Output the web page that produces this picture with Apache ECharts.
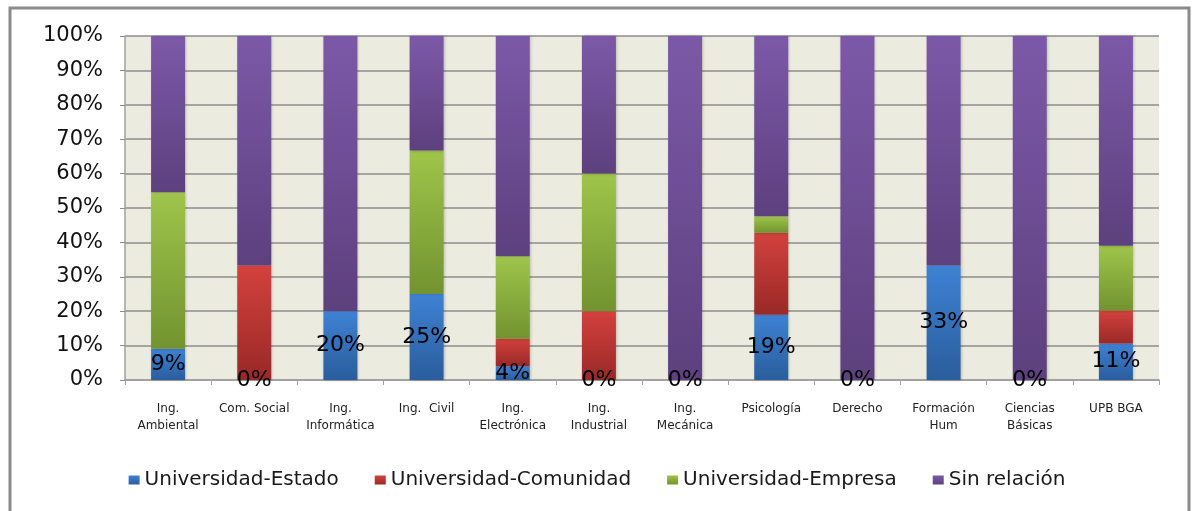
<!DOCTYPE html>
<html>
<head>
<meta charset="utf-8">
<script src="https://cdn.jsdelivr.net/npm/echarts@6/dist/echarts.min.js"></script>
<style>
  html, body { margin: 0; padding: 0; background: #fff; }
  #grafico { width: 1194px; height: 511px; }
</style>
</head>
<body>
<div id="grafico"></div>
<script>
// carreras (eje x)
const categorias = ['Ing.\nAmbiental', 'Com. Social', 'Ing.\nInformática', 'Ing.  Civil', 'Ing.\nElectrónica', 'Ing.\nIndustrial', 'Ing.\nMecánica', 'Psicología', 'Derecho', 'Formación\nHum', 'Ciencias\nBásicas', 'UPB BGA'];
// porcentajes por tipo de relación
const estado    = [9.1, 0, 20, 25, 4, 0, 0, 19.0, 0, 33.3, 0, 10.6];
const comunidad = [0, 33.3, 0, 0, 8, 20, 0, 23.8, 0, 0, 0, 9.6];
const empresa   = [45.5, 0, 0, 41.7, 24, 40, 0, 4.8, 0, 0, 0, 18.8];
const sinRel    = [45.4, 66.7, 80, 33.3, 64, 40, 100, 52.4, 100, 66.7, 100, 61.0];
const ticksY = [0, 10, 20, 30, 40, 50, 60, 70, 80, 90, 100];

function grad(claro, oscuro) {
    return new echarts.graphic.LinearGradient(0, 0, 0, 1, [
        { offset: 0, color: claro },
        { offset: 1, color: oscuro }
    ]);
}

function serie(nombre, datos, claro, oscuro, conEtiqueta) {
    return {
        name: nombre,
        type: 'bar',
        stack: 'total',
        barWidth: 34,
        data: datos,
        itemStyle: {
            color: grad(claro, oscuro),
            shadowColor: 'rgba(0,0,0,0.25)',
            shadowBlur: 3,
            shadowOffsetX: 1
        },
        label: conEtiqueta ? {
            show: true,
            position: 'inside',
            color: '#000',
            fontFamily: 'DejaVu Sans',
            fontSize: 22,
            formatter: p => Math.round(p.value) + '%'
        } : { show: false },
        emphasis: { disabled: true }
    };
}

const chart = echarts.init(document.getElementById('grafico'));
const option = {
    animation: false,
    color: ['#3a7bcb', '#c93a37', '#92bb45', '#6f4e99'],
    graphic: [{
        type: 'rect',
        shape: { x: 10, y: 8, width: 1179, height: 520 },
        style: { fill: 'none', stroke: '#8a8a8a', lineWidth: 3 },
        silent: true
    }],
    grid: {
        left: 125, right: 35, top: 36, bottom: 131,
        show: true,
        backgroundColor: '#ecebe0',
        borderWidth: 0
    },
    legend: {
        bottom: 16,
        left: 'center',
        itemWidth: 11,
        itemHeight: 9,
        itemGap: 36,
        icon: 'rect',
        textStyle: { fontFamily: 'DejaVu Sans', fontSize: 20, color: '#1a1a1a' },
        data: ['Universidad-Estado', 'Universidad-Comunidad', 'Universidad-Empresa', 'Sin relación']
    },
    xAxis: {
        type: 'category',
        data: categorias,
        axisLine: { lineStyle: { color: '#a0a0a0', width: 1.5 } },
        axisTick: { show: true, length: 5, lineStyle: { color: '#a0a0a0' } },
        axisLabel: {
            interval: 0,
            margin: 20,
            fontFamily: 'DejaVu Sans',
            fontSize: 12,
            lineHeight: 17,
            color: '#222',
            verticalAlign: 'top'
        }
    },
    yAxis: {
        type: 'value',
        min: ticksY[0],
        max: ticksY[ticksY.length - 1],
        interval: 10,
        axisLine: { show: true, lineStyle: { color: '#a0a0a0', width: 1.5 } },
        axisTick: { show: true, length: 5, lineStyle: { color: '#8a8a8a' } },
        splitLine: { lineStyle: { color: '#8c8c8c', width: 1.5 } },
        axisLabel: {
            margin: 22,
            fontFamily: 'DejaVu Sans',
            fontSize: 21,
            color: '#111',
            formatter: '{value}%'
        }
    },
    series: [
        serie('Universidad-Estado', estado, '#3e82d4', '#2a5d9c', true),
        serie('Universidad-Comunidad', comunidad, '#d3413d', '#992927', false),
        serie('Universidad-Empresa', empresa, '#9fc54b', '#72932f', false),
        serie('Sin relación', sinRel, '#7c59a8', '#5d407e', false)
    ]
};
chart.setOption(option);
</script>
</body>
</html>
